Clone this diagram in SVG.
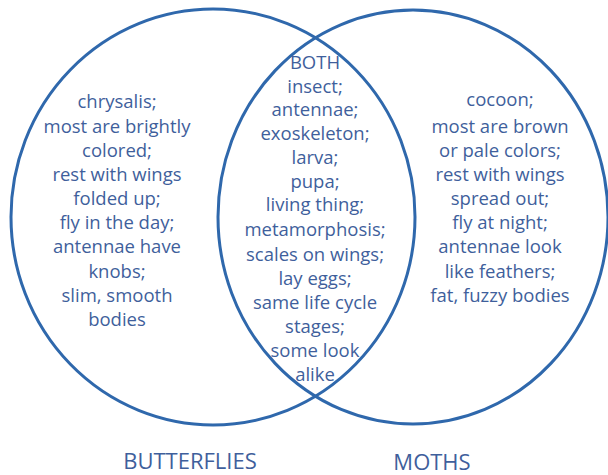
<svg xmlns="http://www.w3.org/2000/svg" width="608" height="475" viewBox="0 0 608 475">
<style>
.c{fill:none;stroke:#2f68ac;stroke-width:3}
.t{font-family:"Open Sans","Noto Sans",sans-serif;font-size:18.5px;font-weight:500;fill:#3f5f9c;text-anchor:middle}
.l{font-family:"Open Sans","Noto Sans",sans-serif;font-size:22px;font-weight:500;fill:#3f5f9c;text-anchor:middle}
</style>
<rect width="608" height="475" fill="#fff"/>
<g id="butterflies">
<ellipse class="c" cx="213" cy="217" rx="202" ry="208"/>
<text class="t" x="117" y="108">chrysalis;</text>
<text class="t" x="117" y="133">most are brightly</text>
<text class="t" x="117" y="157">colored;</text>
<text class="t" x="117" y="181">rest with wings</text>
<text class="t" x="117" y="205">folded up;</text>
<text class="t" x="117" y="229">fly in the day;</text>
<text class="t" x="117" y="253">antennae have</text>
<text class="t" x="117" y="278">knobs;</text>
<text class="t" x="117" y="302">slim, smooth</text>
<text class="t" x="117" y="326">bodies</text>
<text class="l" x="190" y="469">BUTTERFLIES</text>
</g>
<g id="moths">
<ellipse class="c" cx="413" cy="217" rx="195" ry="207"/>
<text class="t" x="500" y="106">cocoon;</text>
<text class="t" x="500" y="133">most are brown</text>
<text class="t" x="500" y="157">or pale colors;</text>
<text class="t" x="500" y="181">rest with wings</text>
<text class="t" x="500" y="205">spread out;</text>
<text class="t" x="500" y="229">fly at night;</text>
<text class="t" x="500" y="253">antennae look</text>
<text class="t" x="500" y="278">like feathers;</text>
<text class="t" x="500" y="302">fat, fuzzy bodies</text>
<text class="l" x="432" y="470">MOTHS</text>
</g>
<g id="both">
<text class="t" x="315" y="69">BOTH</text>
<text class="t" x="315" y="93">insect;</text>
<text class="t" x="315" y="116">antennae;</text>
<text class="t" x="315" y="140">exoskeleton;</text>
<text class="t" x="315" y="164">larva;</text>
<text class="t" x="315" y="188">pupa;</text>
<text class="t" x="315" y="211">living thing;</text>
<text class="t" x="315" y="236">metamorphosis;</text>
<text class="t" x="315" y="261">scales on wings;</text>
<text class="t" x="315" y="285">lay eggs;</text>
<text class="t" x="315" y="309">same life cycle</text>
<text class="t" x="315" y="333">stages;</text>
<text class="t" x="315" y="357">some look</text>
<text class="t" x="315" y="381">alike</text>
</g>
<g id="connectors"/>
</svg>
